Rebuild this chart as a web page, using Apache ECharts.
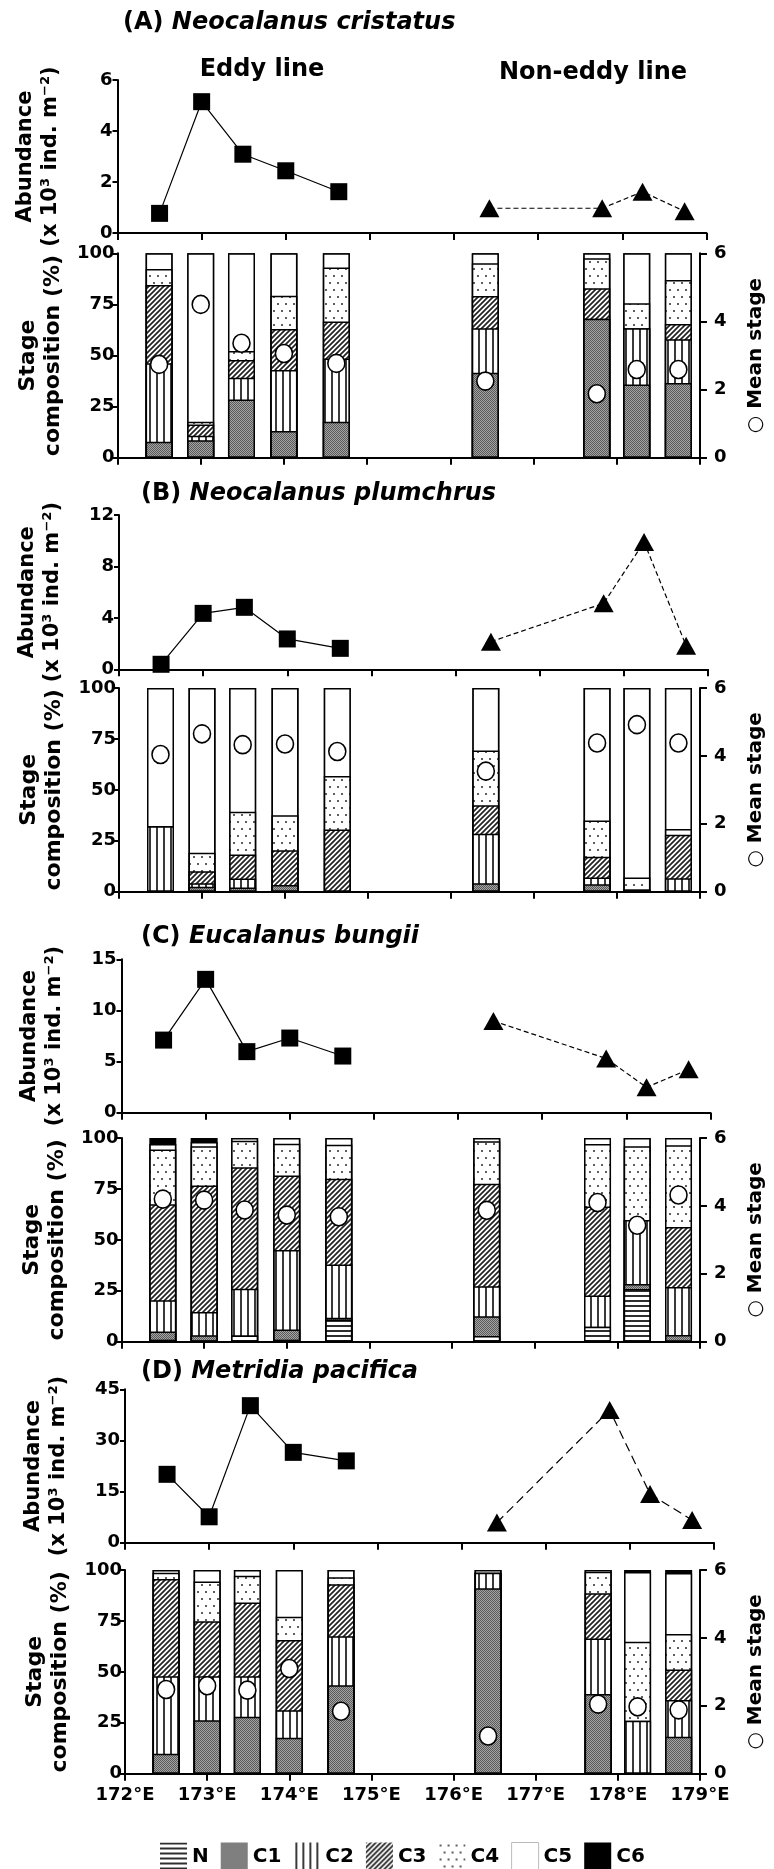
<!DOCTYPE html>
<html><head><meta charset="utf-8">
<script src="https://cdn.jsdelivr.net/npm/echarts@6/dist/echarts.min.js"></script>
<style>html,body{margin:0;padding:0;background:#fff}#chart{width:774px;height:1869px}</style>
</head><body><div id="chart"></div>
<script>
// ---------------- DATA ----------------
const stationLon = [172.5, 173.0, 173.49, 174.0, 174.63, 176.42, 177.76, 178.24, 178.74];
const eddyIdx = [0, 1, 2, 3, 4];
const nonEddyIdx = [5, 6, 7, 8];
const stageNames = ['N', 'C1', 'C2', 'C3', 'C4', 'C5', 'C6'];
const panelLabels = ['(A)', '(B)', '(C)', '(D)'];
const speciesNames = ['Neocalanus cristatus', 'Neocalanus plumchrus', 'Eucalanus bungii', 'Metridia pacifica'];
const abundanceMax = [6, 12, 15, 45];
const abundanceStep = [2, 4, 5, 15];

// Abundance (x10^3 ind. m^-2)
const abundA_eddy = [0.77, 5.15, 3.09, 2.44, 1.62];
const abundA_non  = [0.97, 0.97, 1.62, 0.85];
const abundB_eddy = [0.39, 4.35, 4.82, 2.36, 1.63];
const abundB_non  = [2.15, 5.13, 9.9, 1.84];
const abundC_eddy = [7.1, 13.04, 5.97, 7.3, 5.54];
const abundC_non  = [8.97, 5.3, 2.48, 4.24];
const abundD_eddy = [20.06, 7.6, 40.2, 26.5, 24.0];
const abundD_non  = [5.9, 38.9, 14.3, 6.65];

// Stage composition (%) per station
const A_N  = [0, 0, 0, 0, 0, 0, 0, 0, 0];
const A_C1 = [7.8, 8.6, 28.5, 13.1, 17.6, 41.6, 68.0, 35.8, 36.6];
const A_C2 = [38.4, 2.2, 10.7, 29.8, 31.0, 21.7, 0, 27.6, 21.4];
const A_C3 = [38.3, 5.5, 8.6, 20.1, 18.0, 15.8, 14.9, 0, 7.4];
const A_C4 = [7.8, 1.3, 4.4, 16.3, 26.4, 16.0, 14.7, 12.2, 21.6];
const A_C5 = [7.7, 82.4, 47.8, 20.7, 7.0, 4.9, 2.4, 24.4, 13.0];
const A_C6 = [0, 0, 0, 0, 0, 0, 0, 0, 0];

const B_N  = [0, 0, 0, 0, 0, 0, 0, 0, 0];
const B_C1 = [0, 2.4, 2.1, 3.3, 0, 4.1, 3.6, 1.0, 0];
const B_C2 = [32.1, 1.7, 4.4, 0, 0, 24.4, 3.4, 0, 6.6];
const B_C3 = [0, 6.0, 11.8, 17.1, 30.5, 13.9, 10.2, 0, 21.3];
const B_C4 = [0, 9.0, 20.9, 17.1, 26.3, 26.9, 17.7, 6.0, 2.9];
const B_C5 = [67.9, 80.9, 60.8, 62.5, 43.2, 30.7, 65.1, 93.0, 69.2];
const B_C6 = [0, 0, 0, 0, 0, 0, 0, 0, 0];

const C_N  = [1.0, 0.5, 3.0, 1.0, 10.9, 2.8, 7.4, 25.9, 0];
const C_C1 = [4.0, 2.7, 0, 5.0, 0.8, 9.7, 0, 2.4, 3.3];
const C_C2 = [15.3, 11.4, 23.0, 39.0, 26.2, 14.7, 15.3, 31.5, 23.6];
const C_C3 = [47.2, 62.1, 59.7, 36.6, 42.1, 50.4, 43.7, 0, 29.4];
const C_C4 = [26.8, 19.2, 13.0, 15.6, 16.7, 20.8, 30.6, 36.2, 40.1];
const C_C5 = [2.7, 2.1, 1.3, 2.8, 3.3, 1.6, 3.0, 4.0, 3.6];
const C_C6 = [3.0, 2.0, 0, 0, 0, 0, 0, 0, 0];

const D_N  = [0, 0, 0, 0, 0, 0, 0, 0, 0];
const D_C1 = [9.8, 26.2, 27.9, 17.7, 43.4, 91.0, 39.1, 0, 18.2];
const D_C2 = [38.1, 21.7, 20.0, 13.4, 24.1, 7.7, 27.3, 26.0, 18.0];
const D_C3 = [47.7, 27.0, 36.2, 34.5, 25.5, 0, 22.2, 0, 15.0];
const D_C4 = [3.1, 19.4, 13.1, 11.4, 3.4, 0, 10.6, 38.8, 17.4];
const D_C5 = [1.3, 5.7, 2.8, 23.0, 3.6, 1.3, 0.8, 34.2, 29.9];
const D_C6 = [0, 0, 0, 0, 0, 0, 0, 1.0, 1.5];

// Mean stage (right axis)
const meanA = [2.74, 4.5, 3.36, 3.06, 2.77, 2.25, 1.88, 2.59, 2.59];
const meanB = [4.04, 4.65, 4.33, 4.35, 4.13, 3.55, 4.38, 4.92, 4.38];
const meanC = [4.2, 4.17, 3.88, 3.73, 3.68, 3.87, 4.1, 3.43, 4.32];
const meanD = [2.48, 2.59, 2.46, 3.1, 1.84, 1.11, 2.05, 1.97, 1.88];

// ---------------- BUILD ----------------
const eddyData = [abundA_eddy, abundB_eddy, abundC_eddy, abundD_eddy];
const nonData = [abundA_non, abundB_non, abundC_non, abundD_non];
const stages = [
  [A_N, A_C1, A_C2, A_C3, A_C4, A_C5, A_C6],
  [B_N, B_C1, B_C2, B_C3, B_C4, B_C5, B_C6],
  [C_N, C_C1, C_C2, C_C3, C_C4, C_C5, C_C6],
  [D_N, D_C1, D_C2, D_C3, D_C4, D_C5, D_C6]
];
const means = [meanA, meanB, meanC, meanD];

const FONT = 'DejaVu Sans';

function pat(w, h, draw) {
  const c = document.createElement('canvas');
  c.width = w; c.height = h;
  const g = c.getContext('2d');
  g.fillStyle = '#fff'; g.fillRect(0, 0, w, h);
  draw(g);
  return { image: c, repeat: 'repeat' };
}
const fills = [
  pat(6, 5, g => { g.fillStyle = '#2e2e2e'; g.fillRect(0, 0, 6, 2); }),
  pat(2, 2, g => { g.fillStyle = '#a4a4a4'; g.fillRect(0, 0, 2, 2); g.fillStyle = '#5a5a5a'; g.fillRect(0, 0, 1, 1); g.fillRect(1, 1, 1, 1); }),
  pat(7, 4, g => { g.fillStyle = '#3a3a3a'; g.fillRect(2, 0, 2, 4); }),
  pat(5, 5, g => { g.strokeStyle = '#222'; g.lineWidth = 1.7; g.beginPath();
    g.moveTo(-1, 6); g.lineTo(6, -1); g.moveTo(-1, 1); g.lineTo(1, -1); g.moveTo(4, 6); g.lineTo(6, 4); g.stroke(); }),
  pat(8, 14, g => { g.fillStyle = '#5e5e5e'; g.fillRect(1, 2, 2, 2); g.fillRect(5, 9, 2, 2); }),
  '#ffffff',
  '#000000'
];

// layout (px)
const gridsPx = [
  { left: 117.5, top: 80, height: 153 },
  { left: 117.5, top: 253.3, height: 204.5 },
  { left: 119, top: 515, height: 154.3 },
  { left: 119, top: 688, height: 203.7 },
  { left: 121.5, top: 959.3, height: 153.4 },
  { left: 121.5, top: 1138, height: 203.7 },
  { left: 125, top: 1389.3, height: 153.4 },
  { left: 125, top: 1570, height: 203.7 }
];
const PLOT_W = 589;
const titlePos = [[123, 11], [141, 482], [141, 925], [141, 1360]];

const grid = gridsPx.map(g => ({ left: g.left, top: g.top, width: PLOT_W, height: g.height, containLabel: false }));

const txt = { fontFamily: FONT, fontWeight: 'bold', color: '#000' };

const xAxis = gridsPx.map((g, gi) => ({
  type: 'value', gridIndex: gi, min: 172, max: 179, interval: 1,
  axisLine: { show: true, onZero: false, lineStyle: { color: '#000', width: 2 } },
  axisTick: { show: true, length: 7, lineStyle: { color: '#000', width: 2 } },
  axisLabel: Object.assign({ show: gi === 7, fontSize: 18, margin: 13, formatter: v => v + '°E' }, txt),
  splitLine: { show: false }
}));

const yAxis = [];
for (let p = 0; p < 4; p++) {
  yAxis.push({
    type: 'value', gridIndex: 2 * p, position: 'left', min: 0, max: abundanceMax[p], interval: abundanceStep[p],
    name: 'Abundance\n(x 10³ ind. m⁻²)', nameLocation: 'middle', nameGap: 54, nameRotate: 90,
    nameTextStyle: Object.assign({ fontSize: 21, lineHeight: 25 }, txt),
    axisLine: { show: true, lineStyle: { color: '#000', width: 2 } },
    axisTick: { show: true, length: 5, lineStyle: { color: '#000', width: 2 } },
    axisLabel: Object.assign({ fontSize: 18, margin: 5 }, txt),
    splitLine: { show: false }
  });
  yAxis.push({
    type: 'value', gridIndex: 2 * p + 1, position: 'left', min: 0, max: 100, interval: 25,
    name: 'Stage\ncomposition (%)', nameLocation: 'middle', nameGap: 52, nameRotate: 90,
    nameTextStyle: Object.assign({ fontSize: 22, lineHeight: 25 }, txt),
    axisLine: { show: true, lineStyle: { color: '#000', width: 2 } },
    axisTick: { show: true, length: 5, lineStyle: { color: '#000', width: 2 } },
    axisLabel: Object.assign({ fontSize: 18, margin: 3 }, txt),
    splitLine: { show: false }
  });
}
for (let p = 0; p < 4; p++) {
  yAxis.push({
    type: 'value', gridIndex: 2 * p + 1, position: 'right', min: 0, max: 6, interval: 2,
    name: '○ Mean stage', nameLocation: 'middle', nameGap: 46, nameRotate: 90,
    nameTextStyle: Object.assign({ fontSize: 20 }, txt),
    axisLine: { show: true, lineStyle: { color: '#000', width: 2 } },
    axisTick: { show: true, length: 7, lineStyle: { color: '#000', width: 2 } },
    axisLabel: Object.assign({ fontSize: 18, margin: 14 }, txt),
    splitLine: { show: false }
  });
}

const series = [];
for (let p = 0; p < 4; p++) {
  const cum = [];
  for (let k = 0; k < 7; k++) {
    cum.push(stationLon.map((x, i) => (k ? cum[k - 1][i] : 0) + stages[p][k][i]));
  }
  for (let k = 6; k >= 0; k--) {
    series.push({
      type: 'bar', name: stageNames[k], xAxisIndex: 2 * p + 1, yAxisIndex: 2 * p + 1,
      barWidth: 27, barGap: '-100%', silent: true,
      data: stationLon.map((x, i) => [x, cum[k][i]]),
      itemStyle: { color: fills[k], borderColor: '#000', borderWidth: 1.5 }
    });
  }
  series.push({
    type: 'scatter', name: 'Mean stage', xAxisIndex: 2 * p + 1, yAxisIndex: 8 + p, z: 5,
    symbol: 'circle', symbolSize: [17, 18],
    data: stationLon.map((x, i) => [x, means[p][i]]),
    itemStyle: { color: '#fff', borderColor: '#000', borderWidth: 1.6, opacity: 1 }
  });
  series.push({
    type: 'line', name: 'Eddy line', xAxisIndex: 2 * p, yAxisIndex: 2 * p,
    symbol: 'rect', symbolSize: [17, 17],
    data: eddyIdx.map((i, k) => [stationLon[i], eddyData[p][k]]),
    itemStyle: { color: '#000' }, lineStyle: { color: '#000', width: 1.2 }
  });
  series.push({
    type: 'line', name: 'Non-eddy line', xAxisIndex: 2 * p, yAxisIndex: 2 * p,
    symbol: 'triangle', symbolSize: [20, 18],
    data: nonEddyIdx.map((i, k) => [stationLon[i], nonData[p][k]]),
    itemStyle: { color: '#000' },
    lineStyle: { color: '#000', width: 1.2, type: p === 3 ? [9, 5] : [5, 3] }
  });
}

const title = panelLabels.map((lab, p) => ({
  text: '{a|' + lab + ' }{b|' + speciesNames[p] + '}',
  left: titlePos[p][0], top: titlePos[p][1], padding: 0,
  textStyle: { rich: {
    a: Object.assign({ fontSize: 24 }, txt),
    b: Object.assign({ fontSize: 24, fontStyle: 'italic' }, txt)
  } }
}));

const option = {
  animation: false,
  backgroundColor: '#fff',
  title,
  grid, xAxis, yAxis, series,
  legend: {
    data: stageNames.map(n => n === 'C5'
      ? { name: n, itemStyle: { borderColor: '#bbb', borderWidth: 1 } }
      : { name: n }),
    left: 155, top: 1837, icon: 'rect', itemWidth: 27, itemHeight: 28, itemGap: 12,
    selectedMode: false,
    itemStyle: { borderWidth: 0 },
    textStyle: Object.assign({ fontSize: 20 }, txt)
  },
  graphic: [
    { type: 'text', x: 262, y: 70, style: { text: 'Eddy line', font: 'bold 24px "DejaVu Sans"', fill: '#000', textAlign: 'center', textVerticalAlign: 'middle' } },
    { type: 'text', x: 593, y: 73, style: { text: 'Non-eddy line', font: 'bold 24px "DejaVu Sans"', fill: '#000', textAlign: 'center', textVerticalAlign: 'middle' } }
  ]
};

const chart = echarts.init(document.getElementById('chart'), null, { renderer: 'canvas' });
chart.setOption(option);
</script>
</body></html>
